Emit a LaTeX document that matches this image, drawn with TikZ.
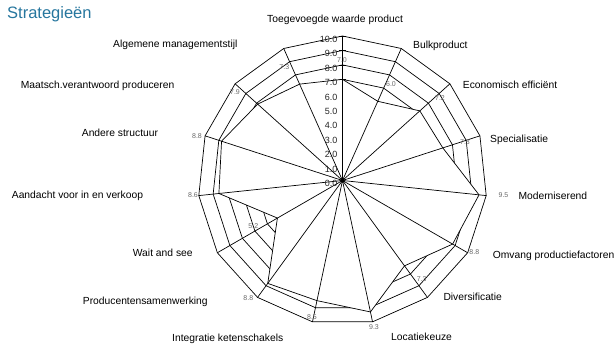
\documentclass[tikz,border=0pt]{standalone}
\usepackage{fontspec}
\setmainfont{Liberation Sans}
\usepackage{tikz}
\usetikzlibrary{calc}
\definecolor{titleblue}{RGB}{38,118,158}
\definecolor{valgray}{RGB}{105,105,105}
\def\cx{342.5}
\def\cy{180.5}
\def\unit{14.45}
\tikzset{
  grid/.style={line width=0.7pt},
  catlabel/.style={anchor=base west, inner sep=0pt, font=\fontsize{10.3}{12}\selectfont},
  ticklabel/.style={anchor=base east, inner sep=0pt, text=black!85, font=\fontsize{9}{11}\selectfont},
  vallabel/.style={inner sep=0pt, text=valgray, font=\fontsize{7}{8}\selectfont}
}

\begin{document}
\begin{tikzpicture}[x=1pt, y=-1pt]
		%%%%% START %%%%%
		\useasboundingbox (0,0) rectangle (616,347);
		
		% ring points r<value>-<axis>, axis 0 at the top, clockwise
		\foreach \k in {0,...,14}
			\foreach \v in {1,...,10}
				\coordinate (r\v-\k) at ({\cx+\unit*\v*cos(90-24*\k)}, {\cy-\unit*\v*sin(90-24*\k)});
		\coordinate (ctr) at (\cx, \cy);
		
		% data points
		\foreach \v [count=\k from 0] in {7.0,6.0,7.2,7.3,9.5,8.8,7.3,9.3,8.5,8.8,5.2,8.6,8.8,7.9,7.3}
			\coordinate (d\k) at ({\cx+\unit*\v*cos(90-24*\k)}, {\cy-\unit*\v*sin(90-24*\k)});
		
		% rings
		\foreach \v in {1,...,10}
			\draw[grid] (r\v-0) \foreach \k in {1,...,14}{ -- (r\v-\k)} -- cycle;
		
		% ticks on the value axis
		\foreach \v in {0,...,10}
			\draw[grid] ($(\cx,\cy)+(-3.5,-\unit*\v)$) -- ++(7,0);
		
		% area of the series hides the rings
		\fill[white] (d0) \foreach \k in {1,...,14}{ -- (d\k)} -- cycle;
		
		% spokes
		\foreach \k in {0,...,14}
			\draw[grid] (ctr) -- (r10-\k);
		
		\draw[grid, line join=miter] (d0) \foreach \k in {1,...,14}{ -- (d\k)} -- cycle;
		\fill (ctr) circle (2.3);
		
		% axis values
		\foreach \v in {0,...,10}
			\node[ticklabel] (t\v) at (337.5, {186.5-14.4*\v}) {\v.0};
		
		% data values
		\node[vallabel] (v0) at (342, 60.5) {7.0};
		\node[vallabel] (v1) at (391, 84) {6.0};
		\node[vallabel] (v2) at (440, 98.5) {7.2};
		\node[vallabel] (v3) at (465, 142.5) {7.3};
		\node[vallabel] (v4) at (503.5, 195) {9.5};
		\node[vallabel] (v5) at (474.3, 252.5) {8.8};
		\node[vallabel] (v6) at (421.7, 279) {7.3};
		\node[vallabel] (v7) at (374, 327) {9.3};
		\node[vallabel] (v8) at (312, 316.7) {8.5};
		\node[vallabel] (v9) at (248.3, 298.3) {8.8};
		\node[vallabel] (v10) at (253.3, 226.5) {5.2};
		\node[vallabel] (v11) at (193, 195.5) {8.6};
		\node[vallabel] (v12) at (197, 136) {8.8};
		\node[vallabel] (v13) at (235, 91.7) {7.9};
		\node[vallabel] (v14) at (284.3, 66.7) {7.3};
		
		% categories
		\node[catlabel] (c0) at (267, 22.4) {Toegevoegde waarde product};
		\node[catlabel] (c1) at (413, 48.7) {Bulkproduct};
		\node[catlabel] (c2) at (462.7, 88.7) {Economisch efficiënt};
		\node[catlabel] (c3) at (490, 142.7) {Specialisatie};
		\node[catlabel] (c4) at (518.3, 199.7) {Moderniserend};
		\node[catlabel] (c5) at (492.7, 258.7) {Omvang productiefactoren};
		\node[catlabel] (c6) at (443.3, 300.4) {Diversificatie};
		\node[catlabel] (c7) at (391, 340.7) {Locatiekeuze};
		\node[catlabel] (c8) at (172, 341.7) {Integratie ketenschakels};
		\node[catlabel] (c9) at (82.7, 304.7) {Producentensamenwerking};
		\node[catlabel] (c10) at (132.7, 256.7) {Wait and see};
		\node[catlabel] (c11) at (11.7, 198.7) {Aandacht voor in en verkoop};
		\node[catlabel] (c12) at (81.7, 136.7) {Andere structuur};
		\node[catlabel] (c13) at (20.7, 88.7) {Maatsch.verantwoord produceren};
		\node[catlabel] (c14) at (113, 47.7) {Algemene managementstijl};
		
		\node[anchor=base west, inner sep=0pt, text=titleblue, font=\fontsize{16.5}{19}\selectfont] (title) at (7, 18.8) {Strategieën};
		%%%%% END %%%%%
\end{tikzpicture}
\end{document}
